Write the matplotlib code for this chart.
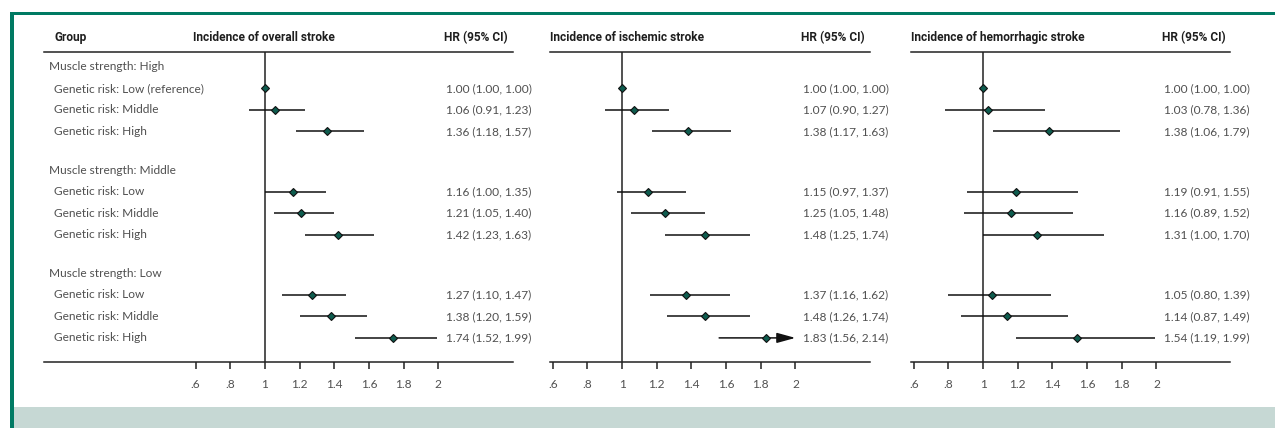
import matplotlib
matplotlib.use("Agg")
import matplotlib.pyplot as plt
from matplotlib.patches import Rectangle

# ---------------- data ----------------
group_labels = ["Muscle strength: High", "Muscle strength: Middle", "Muscle strength: Low"]
item_labels = [
    "Genetic risk: Low (reference)", "Genetic risk: Middle", "Genetic risk: High",
    "Genetic risk: Low", "Genetic risk: Middle", "Genetic risk: High",
    "Genetic risk: Low", "Genetic risk: Middle", "Genetic risk: High",
]
panel_titles = ["Incidence of overall stroke", "Incidence of ischemic stroke",
                "Incidence of hemorrhagic stroke"]

overall_hr = [1.00, 1.06, 1.36, 1.16, 1.21, 1.42, 1.27, 1.38, 1.74]
overall_lo = [1.00, 0.91, 1.18, 1.00, 1.05, 1.23, 1.10, 1.20, 1.52]
overall_hi = [1.00, 1.23, 1.57, 1.35, 1.40, 1.63, 1.47, 1.59, 1.99]

ischemic_hr = [1.00, 1.07, 1.38, 1.15, 1.25, 1.48, 1.37, 1.48, 1.83]
ischemic_lo = [1.00, 0.90, 1.17, 0.97, 1.05, 1.25, 1.16, 1.26, 1.56]
ischemic_hi = [1.00, 1.27, 1.63, 1.37, 1.48, 1.74, 1.62, 1.74, 2.14]

hemo_hr = [1.00, 1.03, 1.38, 1.19, 1.16, 1.31, 1.05, 1.14, 1.54]
hemo_lo = [1.00, 0.78, 1.06, 0.91, 0.89, 1.00, 0.80, 0.87, 1.19]
hemo_hi = [1.00, 1.36, 1.79, 1.55, 1.52, 1.70, 1.39, 1.49, 1.99]

tick_values = [0.6, 0.8, 1.0, 1.2, 1.4, 1.6, 1.8, 2.0]
tick_labels = [".6", ".8", "1", "1.2", "1.4", "1.6", "1.8", "2"]

# ---------------- style ----------------
W, H = 1275, 428
GREEN = "#007a63"
BAND = "#c6d8d4"
MARK = "#0e5c4e"
TXT = "#505050"
HDR = "#1e1e1e"
BODY_FONT = ["Lato", "DejaVu Sans"]
HEAD_FONT = ["Roboto", "DejaVu Sans"]
FS = 8.6

fig = plt.figure(figsize=(W / 100, H / 100), dpi=100)
fig.patch.set_facecolor("white")

# frame decoration
fig.add_artist(Rectangle((10 / W, 0), 4 / W, (H - 12) / H, transform=fig.transFigure,
                         color=GREEN, lw=0))
fig.add_artist(Rectangle((10 / W, (H - 15) / H), (W - 10) / W, 3 / H,
                         transform=fig.transFigure, color=GREEN, lw=0))
fig.add_artist(Rectangle((14 / W, 0), (W - 14) / W, 21 / H, transform=fig.transFigure,
                         color=BAND, lw=0))

# row positions (in row units)
row_step = 21.5
group_gap = 4.8
y_groups = [g * group_gap for g in range(3)]
y_items = [g * group_gap + k + 1 for g in range(3) for k in range(3)]

top_px, bot_px = 52, 362
ylim_top = -(67 - top_px) / row_step
ylim_bot = (bot_px - 67) / row_step

panels = [
    (overall_hr, overall_lo, overall_hi, 44, 513, -0.275),
    (ischemic_hr, ischemic_lo, ischemic_hi, 550, 870, 0.584),
    (hemo_hr, hemo_lo, hemo_hi, 911, 1230, 0.584),
]
scale = 173.3  # px per unit

for p, (hr, lo, hi, x0, x1, xmin) in enumerate(panels):
    ax = fig.add_axes([x0 / W, (H - bot_px) / H, (x1 - x0) / W, (bot_px - top_px) / H])
    xmax = xmin + (x1 - x0) / scale
    ax.set_xlim(xmin, xmax)
    ax.set_ylim(ylim_bot, ylim_top)
    ax.set_facecolor("none")
    for s in ["left", "right"]:
        ax.spines[s].set_visible(False)
    for s in ["top", "bottom"]:
        ax.spines[s].set_linewidth(1.1)
        ax.spines[s].set_color("#222222")
    ax.set_yticks([])
    ax.set_xticks(tick_values)
    ax.set_xticklabels(tick_labels, family=BODY_FONT, fontsize=FS, color=TXT)
    ax.tick_params(axis="x", direction="out", length=5, width=1.1, color="#222222", pad=7)

    ax.axvline(1.0, color="#222222", lw=1.1, zorder=2)

    xmax_tick = tick_values[-1]
    for y, h, l, u in zip(y_items, hr, lo, hi):
        if u > xmax_tick:
            ax.annotate("", xy=(xmax_tick, y), xytext=(l, y),
                        arrowprops=dict(arrowstyle="-|>,head_length=0.8,head_width=0.22",
                                        color="#111111", lw=1.1,
                                        mutation_scale=14, shrinkA=0, shrinkB=0),
                        zorder=3)
        else:
            ax.plot([l, u], [y, y], color="#111111", lw=1.1, zorder=3,
                    solid_capstyle="butt")
        ax.plot([h], [y], marker="D", ms=4.3, mfc=MARK, mec="#111111", mew=0.8,
                zorder=4, ls="none")
        ax.text(2.045, y, f"{h:.2f} ({l:.2f}, {u:.2f})", family=BODY_FONT, fontsize=FS,
                color=TXT, va="center", ha="left", clip_on=False)

    yh = -(67 - 38) / row_step
    ax.text(0.585, yh, panel_titles[p], family=HEAD_FONT, fontsize=FS, fontweight="bold",
            color=HDR, va="center", ha="left", clip_on=False)
    ax.text(2.035, yh, "HR (95% CI)", family=HEAD_FONT, fontsize=FS, fontweight="bold",
            color=HDR, va="center", ha="left", clip_on=False)

    if p == 0:
        ax.text(-0.215, yh, "Group", family=HEAD_FONT, fontsize=FS, fontweight="bold",
                color=HDR, va="center", ha="left", clip_on=False)
        for y, lab in zip(y_groups, group_labels):
            ax.text(-0.245, y, lab, family=BODY_FONT, fontsize=FS, color=TXT,
                    va="center", ha="left")
        for y, lab in zip(y_items, item_labels):
            ax.text(-0.217, y, lab, family=BODY_FONT, fontsize=FS, color=TXT,
                    va="center", ha="left")

fig.savefig("out.png", dpi=100, facecolor="white")
